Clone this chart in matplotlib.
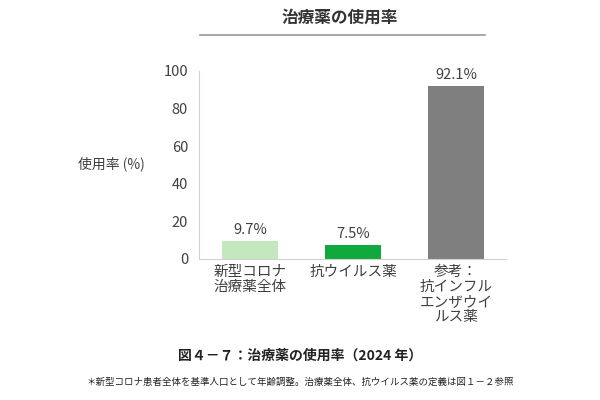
import matplotlib.pyplot as plt
from matplotlib.lines import Line2D

plt.rcParams["font.family"] = "Noto Sans CJK JP"

categories = ["新型コロナ\n治療薬全体", "抗ウイルス薬", "参考：\n抗インフル\nエンザウイ\nルス薬"]
values = [9.7, 7.5, 92.1]
colors = ["#c3e8bd", "#10a93d", "#7f7f7f"]
yticks = [0, 20, 40, 60, 80, 100]

fig = plt.figure(figsize=(6, 4), dpi=100)
ax = fig.add_axes([0.332, 0.3525, 0.512, 0.47])
x = list(range(len(values)))
ax.bar(x, values, width=0.55, color=colors)
for xi, v in zip(x, values):
    ax.text(xi, v + 2, f"{v}%", ha="center", va="bottom", fontsize=10.5, color="#404040")
ax.set_xlim(-0.495, 2.49)
ax.set_ylim(0, 100)
ax.set_yticks(yticks)
ax.set_xticks(x)
ax.set_xticklabels(categories, fontsize=10.5, color="#404040", linespacing=1.1)
ax.tick_params(axis="y", labelsize=10.5, colors="#404040", length=0, pad=8)
ax.tick_params(axis="x", length=0, pad=4)
for s in ["top", "right"]:
    ax.spines[s].set_visible(False)
for s in ["left", "bottom"]:
    ax.spines[s].set_color("#d0d0d0")

fig.text(0.185, 0.59, "使用率 (%)", ha="center", va="center", fontsize=10, color="#404040")
fig.text(0.567, 0.955, "治療薬の使用率", ha="center", va="center", fontsize=12, fontweight="bold", color="#333333")
fig.add_artist(Line2D([0.333, 0.808], [0.912, 0.912], color="#999999", lw=1.2))
fig.text(0.5, 0.112, "図４－７：治療薬の使用率（2024 年）", ha="center", va="center", fontsize=10, fontweight="bold", color="#222222")
fig.text(0.5, 0.045, "＊新型コロナ患者全体を基準人口として年齢調整。治療薬全体、抗ウイルス薬の定義は図１－２参照",
         ha="center", va="center", fontsize=6.8, color="#222222")

fig.savefig("out.png")
